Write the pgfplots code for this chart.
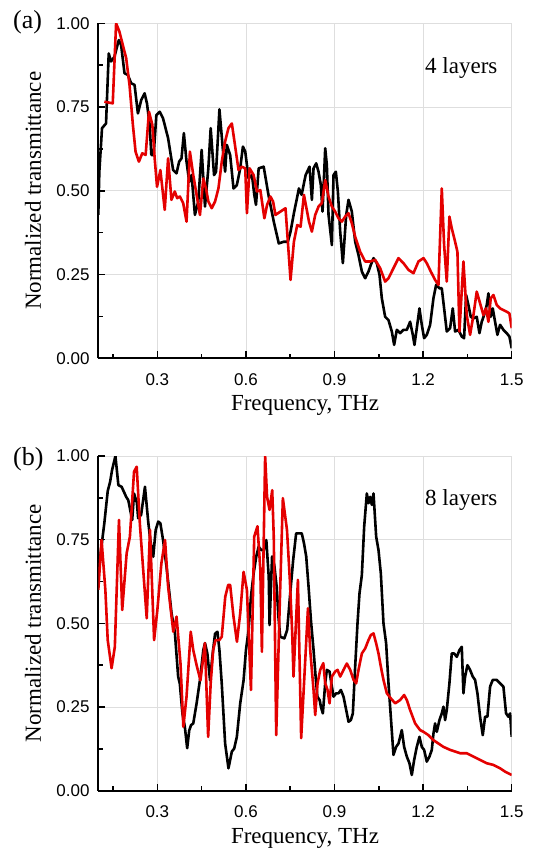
\documentclass[border=0pt]{standalone}
\usepackage{fontspec}
\setmainfont{Liberation Serif}
\newfontfamily\sansf{Liberation Sans}
\usepackage{pgfplots}
\pgfplotsset{compat=1.18}
\definecolor{cred}{RGB}{228,0,0}
\definecolor{cgrid}{RGB}{222,222,222}
\pgfplotsset{
  panel/.style={
    scale only axis, width=413.4pt,
    xmin=0.1, xmax=1.5, ymin=0, ymax=1,
    axis x line=bottom, axis y line=left,
    axis line style={-, line width=2pt, black},
    xtick={0.3,0.6,0.9,1.2,1.5}, xticklabels={0.3,0.6,0.9,1.2,1.5},
    minor xtick={0.15,0.45,0.75,1.05,1.35},
    ytick={0,0.25,0.5,0.75,1}, yticklabels={0.00,0.25,0.50,0.75,1.00},
    minor ytick={0.125,0.375,0.625,0.875},
    tick align=inside, major tick length=7pt, minor tick length=4.5pt,
    every tick/.style={black, line width=1.5pt},
    grid=major, major grid style={cgrid, line width=0.7pt},
    ticklabel style={font=\sansf\fontsize{17}{20}\selectfont},
    xticklabel style={anchor=base, yshift=-26.7pt},
    yticklabel style={xshift=-5.3pt},
    xlabel={Frequency, THz},
    ylabel={Normalized transmittance},
    every axis x label/.style={at={(axis description cs:0.5,-0.157)}, anchor=base, font=\fontsize{23}{27}\selectfont},
    every axis y label/.style={at={(axis description cs:-0.158,0.5)}, rotate=90, anchor=center, font=\fontsize{23}{27}\selectfont},
  },
  blk/.style={black, line width=2.6pt, line join=round},
  rd/.style={cred, line width=2.6pt, line join=round},
}
\begin{document}
\begin{tikzpicture}
\useasboundingbox (0,0) rectangle (533pt,-850pt);
% ---------------- panel (a) ----------------
\begin{axis}[panel, height=335pt, at={(98.3pt,-358.3pt)}, anchor=south west]
\addplot[blk] coordinates {
(0.100,0.428)(0.1035,0.557)(0.1126,0.687)(0.1262,0.701)(0.1353,0.910)(0.1432,0.886)(0.1546,0.900)(0.1694,0.950)(0.1773,0.935)(0.1887,0.851)(0.2000,0.846)(0.2114,0.821)(0.2228,0.816)(0.2341,0.731)(0.2455,0.771)(0.2568,0.791)(0.2648,0.761)(0.2739,0.697)(0.2796,0.607)(0.2875,0.607)(0.2966,0.726)(0.3080,0.736)(0.3193,0.716)(0.3364,0.657)(0.3534,0.562)(0.3648,0.552)(0.3738,0.587)(0.3818,0.597)(0.3898,0.672)(0.3988,0.587)(0.4079,0.527)(0.4159,0.547)(0.4272,0.428)(0.4386,0.468)(0.4500,0.622)(0.4613,0.453)(0.4727,0.567)(0.4806,0.687)(0.4920,0.547)(0.4988,0.557)(0.5102,0.743)(0.5215,0.627)(0.5295,0.557)(0.5352,0.637)(0.5465,0.607)(0.5579,0.507)(0.5692,0.517)(0.5806,0.567)(0.5897,0.632)(0.5976,0.617)(0.6090,0.537)(0.6204,0.547)(0.6283,0.488)(0.6340,0.458)(0.6431,0.567)(0.6601,0.572)(0.6772,0.483)(0.6942,0.408)(0.7112,0.343)(0.7283,0.348)(0.7419,0.348)(0.7510,0.378)(0.7624,0.433)(0.7794,0.507)(0.7885,0.488)(0.8021,0.547)
(0.8154,0.572)(0.8233,0.473)(0.8289,0.567)(0.8379,0.582)(0.8458,0.557)(0.8537,0.517)(0.8594,0.438)(0.8684,0.627)(0.8740,0.577)(0.8797,0.428)(0.8910,0.338)(0.8966,0.547)(0.9045,0.557)(0.9113,0.498)(0.9192,0.378)(0.9282,0.284)(0.9395,0.428)(0.9474,0.473)(0.9586,0.438)(0.9699,0.348)(0.9812,0.308)(0.9925,0.259)(1.0038,0.239)(1.0150,0.259)(1.0229,0.279)(1.0320,0.299)(1.0432,0.284)(1.0523,0.249)(1.0602,0.179)(1.0714,0.124)(1.0827,0.114)(1.0940,0.080)(1.1019,0.040)(1.1109,0.085)(1.1222,0.075)(1.1335,0.085)(1.1448,0.085)(1.1560,0.109)(1.1651,0.070)(1.1707,0.040)(1.1786,0.090)(1.1876,0.149)(1.1955,0.100)(1.2034,0.060)(1.2124,0.070)(1.2237,0.100)(1.2350,0.179)(1.2440,0.219)(1.2553,0.209)(1.2632,0.209)(1.2711,0.149)(1.2801,0.080)(1.2914,0.090)(1.3004,0.149)(1.3083,0.080)(1.3196,0.085)(1.3309,0.065)(1.3388,0.060)(1.3456,0.189)(1.3534,0.159)(1.3613,0.124)(1.3704,0.119)(1.3816,0.124)(1.3907,0.075)(1.3986,0.109)(1.4065,0.129)(1.4155,0.159)(1.4211,0.194)(1.4290,0.124)(1.4358,0.149)(1.4437,0.109)(1.4516,0.070)(1.4606,0.100)(1.4719,0.085)(1.4832,0.075)(1.4922,0.065)(1.5000,0.030)
};
\addplot[rd] coordinates {
(0.1205,0.766)(0.1489,0.761)(0.1603,1.000)(0.1716,0.975)(0.1830,0.935)(0.1944,0.896)(0.2057,0.816)(0.2171,0.697)(0.2262,0.617)(0.2375,0.587)(0.2489,0.612)(0.2603,0.607)(0.2716,0.736)(0.2830,0.697)(0.2909,0.597)(0.2989,0.512)(0.3102,0.562)(0.3250,0.443)(0.3364,0.597)(0.3477,0.473)(0.3591,0.498)(0.3670,0.478)(0.3761,0.483)(0.3875,0.463)(0.3988,0.408)(0.4102,0.617)(0.4216,0.547)(0.4329,0.488)(0.4443,0.428)(0.4556,0.537)(0.4647,0.507)(0.4727,0.468)(0.4840,0.448)(0.4954,0.468)(0.5068,0.507)(0.5181,0.587)(0.5295,0.647)(0.5408,0.687)(0.5522,0.701)(0.5636,0.632)(0.5749,0.562)(0.5863,0.572)(0.5976,0.567)(0.6033,0.433)(0.6124,0.567)(0.6260,0.547)(0.6374,0.498)(0.6488,0.502)(0.6624,0.418)(0.6715,0.458)(0.6828,0.483)(0.6919,0.468)(0.6999,0.428)(0.7169,0.438)(0.7340,0.448)(0.7510,0.234)(0.7624,0.348)(0.7737,0.398)(0.7851,0.393)(0.7964,0.488)(0.8135,0.408)
(0.8233,0.378)(0.8346,0.428)(0.8458,0.453)(0.8571,0.463)(0.8684,0.532)(0.8797,0.483)(0.8910,0.453)(0.9022,0.438)(0.9135,0.418)(0.9248,0.408)(0.9361,0.423)(0.9474,0.433)(0.9586,0.403)(0.9699,0.363)(0.9868,0.318)(1.0038,0.289)(1.0207,0.289)(1.0376,0.294)(1.0545,0.269)(1.0714,0.229)(1.0827,0.239)(1.0996,0.269)(1.1166,0.299)(1.1335,0.284)(1.1504,0.264)(1.1673,0.254)(1.1842,0.289)(1.2012,0.299)(1.2124,0.284)(1.2260,0.259)(1.2406,0.234)(1.2519,0.219)(1.2632,0.507)(1.2711,0.338)(1.2801,0.229)(1.2891,0.423)(1.2970,0.388)(1.3083,0.348)(1.3162,0.318)(1.3230,0.080)(1.3365,0.289)(1.3478,0.129)(1.3591,0.070)(1.3704,0.129)(1.3816,0.199)(1.3929,0.164)(1.4042,0.129)(1.4132,0.149)(1.4211,0.109)(1.4290,0.179)(1.4380,0.189)(1.4493,0.159)(1.4606,0.149)(1.4719,0.144)(1.4832,0.139)(1.4922,0.134)(1.5000,0.090)
};
\end{axis}
% ---------------- panel (b) ----------------
\begin{axis}[panel, height=334.7pt, at={(98.3pt,-790.7pt)}, anchor=south west]
\addplot[blk] coordinates {
(0.100,0.640)(0.1092,0.719)(0.1205,0.800)(0.1319,0.895)(0.1400,0.923)(0.1466,0.958)(0.1580,1.000)(0.1680,0.913)(0.1790,0.908)(0.1944,0.878)(0.2015,0.868)(0.2148,0.809)(0.2210,0.888)(0.2307,0.860)(0.2350,0.814)(0.2450,0.824)(0.2580,0.908)(0.2690,0.804)(0.2760,0.749)(0.2860,0.699)(0.2943,0.779)(0.3030,0.804)(0.3102,0.799)(0.3193,0.749)(0.3310,0.669)(0.3420,0.580)(0.3480,0.530)(0.3591,0.475)(0.3704,0.341)(0.3760,0.320)(0.3850,0.230)(0.3930,0.191)(0.4010,0.127)(0.4079,0.180)(0.4140,0.196)(0.4216,0.201)(0.4329,0.261)(0.4443,0.331)(0.4556,0.420)(0.4613,0.441)(0.4693,0.410)(0.4784,0.330)(0.4874,0.410)(0.4954,0.469)(0.5034,0.475)(0.5102,0.420)(0.5181,0.320)(0.5295,0.141)(0.5408,0.067)(0.5522,0.117)(0.5602,0.126)(0.5692,0.161)(0.5806,0.261)(0.5920,0.330)(0.6000,0.420)(0.6090,0.480)(0.6170,0.580)(0.6260,0.649)(0.6350,0.700)(0.6430,0.729)(0.6520,0.719)(0.6600,0.719)(0.6690,0.749)(0.6772,0.639)(0.6800,0.495)(0.6885,0.700)(0.6960,0.674)(0.7040,0.610)(0.7100,0.520)(0.7160,0.460)(0.7300,0.455)(0.7396,0.480)(0.7500,0.590)(0.7600,0.690)(0.7700,0.769)(0.7800,0.769)(0.7890,0.769)(0.7964,0.740)
(0.8041,0.700)(0.8120,0.610)(0.8200,0.510)(0.8290,0.420)(0.8360,0.340)(0.8420,0.281)(0.8500,0.270)(0.8537,0.251)(0.8605,0.231)(0.8684,0.321)(0.8740,0.361)(0.8831,0.356)(0.8910,0.311)(0.8966,0.281)(0.9056,0.291)(0.9135,0.291)(0.9214,0.301)(0.9304,0.281)(0.9395,0.241)(0.9474,0.206)(0.9553,0.211)(0.9620,0.231)(0.9699,0.371)(0.9778,0.500)(0.9846,0.590)(0.9925,0.644)(1.0004,0.789)(1.0094,0.888)(1.0150,0.859)(1.0207,0.878)(1.0263,0.854)(1.0320,0.888)(1.0410,0.759)(1.0489,0.719)(1.0568,0.649)(1.0658,0.500)(1.0748,0.440)(1.0827,0.321)(1.0906,0.221)(1.0996,0.107)(1.1087,0.131)(1.1166,0.141)(1.1278,0.181)(1.1357,0.131)(1.1448,0.102)(1.1538,0.082)(1.1617,0.047)(1.1696,0.092)(1.1786,0.131)(1.1876,0.161)(1.1955,0.131)(1.2034,0.122)(1.2124,0.087)(1.2215,0.102)(1.2294,0.122)(1.2350,0.171)(1.2406,0.201)(1.2463,0.176)(1.2553,0.211)(1.2632,0.231)(1.2688,0.251)(1.2745,0.211)(1.2801,0.241)(1.2891,0.321)(1.2970,0.410)(1.3049,0.410)(1.3140,0.400)(1.3230,0.420)(1.3309,0.430)(1.3365,0.291)(1.3422,0.341)(1.3501,0.375)(1.3591,0.361)(1.3681,0.341)(1.3760,0.331)(1.3839,0.291)(1.3929,0.221)(1.4020,0.166)(1.4098,0.221)(1.4177,0.221)(1.4268,0.311)(1.4358,0.331)(1.4493,0.331)(1.4606,0.321)(1.4719,0.311)(1.4809,0.231)(1.4888,0.221)(1.4945,0.231)(1.5000,0.161)
};
\addplot[rd] coordinates {
(0.100,0.600)(0.1110,0.749)(0.1239,0.600)(0.1319,0.450)(0.1450,0.366)(0.1560,0.430)(0.1700,0.809)(0.1810,0.540)(0.1960,0.709)(0.2070,0.759)(0.2210,0.953)(0.2300,0.968)(0.2410,0.794)(0.2640,0.515)(0.2750,0.779)(0.2890,0.450)(0.3000,0.540)(0.3136,0.679)(0.3260,0.749)(0.3364,0.610)(0.3540,0.475)(0.3650,0.520)(0.3784,0.380)(0.3880,0.191)(0.3988,0.281)(0.4130,0.475)(0.4216,0.420)(0.4329,0.375)(0.4460,0.330)(0.4530,0.380)(0.4610,0.441)(0.4720,0.161)(0.4806,0.321)(0.4890,0.420)(0.4970,0.450)(0.5100,0.450)(0.5181,0.460)(0.5300,0.580)(0.5400,0.615)(0.5465,0.615)(0.5579,0.520)(0.5695,0.445)(0.5806,0.530)(0.5920,0.654)(0.6033,0.600)(0.6170,0.301)(0.6280,0.759)(0.6390,0.790)(0.6488,0.659)(0.6540,0.415)(0.6650,1.000)(0.6715,0.878)(0.6800,0.839)(0.6890,0.898)(0.6942,0.759)(0.7025,0.166)(0.7146,0.560)(0.7250,0.874)(0.7390,0.779)(0.7487,0.629)(0.7567,0.470)(0.7610,0.341)(0.7760,0.630)(0.7870,0.157)(0.8100,0.545)
(0.8176,0.420)(0.8289,0.301)(0.8346,0.226)(0.8425,0.321)(0.8515,0.361)(0.8620,0.381)(0.8684,0.321)(0.8763,0.301)(0.8831,0.261)(0.8910,0.341)(0.9022,0.356)(0.9101,0.361)(0.9192,0.341)(0.9304,0.361)(0.9417,0.380)(0.9530,0.361)(0.9643,0.331)(0.9733,0.321)(0.9812,0.361)(0.9925,0.410)(1.0038,0.425)(1.0150,0.450)(1.0229,0.465)(1.0320,0.470)(1.0410,0.440)(1.0489,0.410)(1.0568,0.371)(1.0658,0.331)(1.0771,0.291)(1.0906,0.276)(1.1053,0.261)(1.1222,0.271)(1.1357,0.286)(1.1448,0.271)(1.1560,0.241)(1.1730,0.201)(1.1899,0.181)(1.2012,0.176)(1.2181,0.166)(1.2350,0.151)(1.2519,0.141)(1.2688,0.131)(1.2914,0.122)(1.3083,0.117)(1.3252,0.112)(1.3478,0.112)(1.3704,0.102)(1.3929,0.092)(1.4155,0.082)(1.4380,0.077)(1.4606,0.067)(1.4775,0.057)(1.4888,0.052)(1.5000,0.047)
};
\end{axis}
\node[anchor=base west, inner sep=0pt, font=\fontsize{26}{30}\selectfont] at (13pt,-28.4pt) {(a)};
\node[anchor=base west, inner sep=0pt, font=\fontsize{26}{30}\selectfont] at (13pt,-465.4pt) {(b)};
\node[anchor=base west, inner sep=0pt, font=\fontsize{23}{27}\selectfont] at (425pt,-73.3pt) {4 layers};
\node[anchor=base west, inner sep=0pt, font=\fontsize{23}{27}\selectfont] at (425pt,-505pt) {8 layers};
\end{tikzpicture}
\end{document}
